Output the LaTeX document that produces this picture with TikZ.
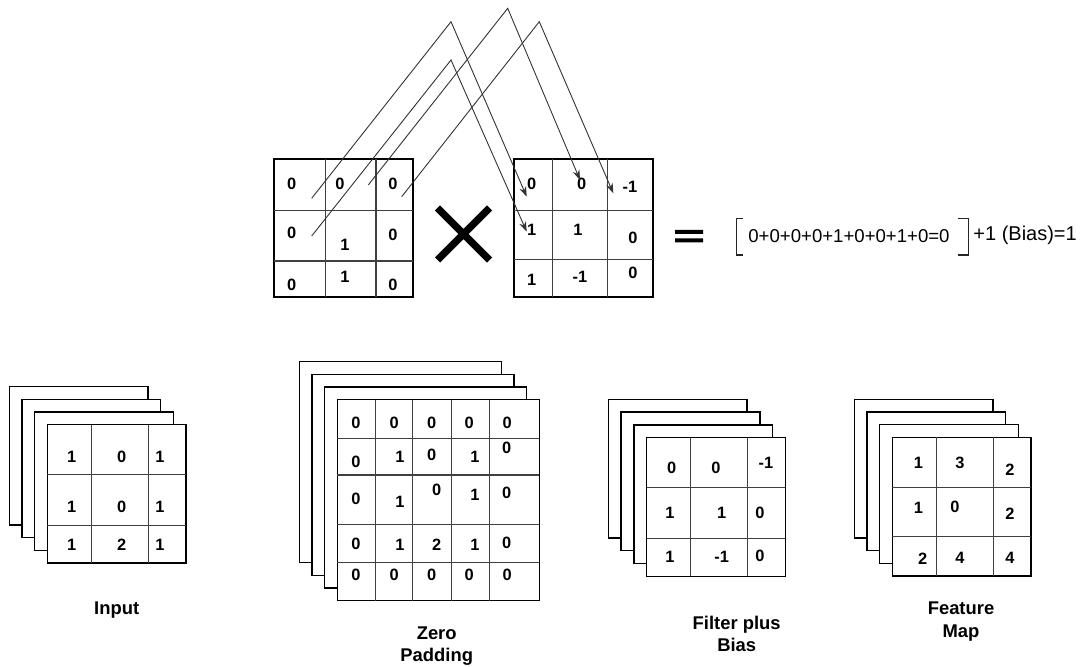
\documentclass[tikz,border=0pt]{standalone}
\usepackage{fontspec}
\setmainfont{Liberation Sans}
\usetikzlibrary{arrows.meta, calc}

\begin{document}
\begin{tikzpicture}[
    x=0.5pt, y=-0.5pt, % pixel grid, y grows downward
    cell/.style={font=\fontsize{8.2}{10}\selectfont\bfseries, inner sep=0pt},
    caption/.style={font=\fontsize{9.2}{11.2}\selectfont\bfseries, align=center, inner sep=0pt},
    eq/.style={font=\fontsize{9.3}{11}\selectfont, inner sep=0pt},
    sheet/.style={draw, fill=white, line width=0.7pt},
    gridline/.style={draw=black!75, line width=0.6pt},
    link/.style={-{Stealth[length=5pt, width=3.5pt]}, draw=black!80, line width=0.45pt}
]
    \useasboundingbox (0,0) rectangle (1087,667);

    % Top: receptive field times filter
    \draw[sheet] (274,159) rectangle (413,297);
    \draw[gridline] (325.7,159) -- (325.7,297) (376,159) -- (376,297)
                    (274,210.7) -- (413,210.7) (274,261) -- (413,261);
    \draw[sheet] (514,159) rectangle (653,297);
    \draw[gridline] (552.7,159) -- (552.7,297) (607.7,159) -- (607.7,297)
                    (514,210.7) -- (653,210.7) (514,259.3) -- (653,259.3);

    \foreach \v/\x/\y [count=\i] in {0/291.7/184, 0/340/184, 0/393/184,
        0/291.7/233, 1/345/245, 0/393/235, 0/291.7/285, 1/345/277, 0/393/285}
        \node[cell] (rf\i) at (\x,\y) {\v};
    \foreach \v/\x/\y [count=\i] in {0/531.7/184, 0/581.7/184, -1/630/187,
        1/531.7/230, 1/578/230, 0/633/238, 1/531.7/280, -1/580/277, 0/633/273}
        \node[cell] (kr\i) at (\x,\y) {\v};

    % Arrows from the patch into the filter
    \coordinate (s1) at (311.7,198.3); \coordinate (p1) at (451,21.7);  \coordinate (e1) at (526.7,196.7);
    \coordinate (s2) at (311.7,236);   \coordinate (p2) at (451,60);    \coordinate (e2) at (526.7,231.7);
    \coordinate (s3) at (368.3,185);   \coordinate (p3) at (507.7,8.3); \coordinate (e3) at (580,180);
    \coordinate (s4) at (401.7,196.7); \coordinate (p4) at (539.3,21.7); \coordinate (e4) at (613.3,193.3);
    \foreach \i in {1,...,4}
        \draw[link] (s\i) -- (p\i) -- (e\i);

    % Times sign and equals sign
    \coordinate (times) at (463.5,234);
    \draw[line width=3.6pt] ($(times)+(-26,-26)$) -- ($(times)+(26,26)$)
                            ($(times)+(26,-26)$) -- ($(times)+(-26,26)$);
    \fill (675,230) rectangle (703,234) (675,238.3) rectangle (703,242.3);

    % Sum in brackets, plus bias
    \node[eq] (sum) at (849,235.8) {0+0+0+0+1+0+0+1+0=0};
    \draw[line width=0.7pt, black!85] (743,218.5) -- (736.5,218.5) -- (736.5,255) -- (743,255);
    \draw[line width=0.7pt, black!85] (958.3,218.5) -- (968.3,218.5) -- (968.3,255) -- (958.3,255);
    \node[eq, font=\fontsize{10}{12}\selectfont, anchor=west] (bias) at (973,235.8) {+1 (Bias)=1};

    % Bottom: Input stack
    \foreach \k in {0,...,3}
        \draw[sheet] (9.3+12.7*\k,386.7+12.7*\k) rectangle +(138.7,138.3);
    \draw[gridline] (91.7,424.8) -- (91.7,563) (148.3,424.8) -- (148.3,563)
                    (47.4,474.3) -- (186.1,474.3) (47.4,525.7) -- (186.1,525.7);
    \foreach \v/\x/\y [count=\i] in {1/71.7/456.7, 0/121.7/456.7, 1/160/456.7,
        1/71.7/506.7, 0/121.7/506.7, 1/160/506.7, 1/71.7/545, 2/121.7/545, 1/160/545}
        \node[cell] (in\i) at (\x,\y) {\v};
    \node[caption] (inlabel) at (116.7,610) {Input};

    % Zero padding stack
    \foreach \k in {0,...,3}
        \draw[sheet] (299.3+12.67*\k,361.7+12.67*\k) rectangle +(202,201);
    \draw[gridline] (375.7,399.7) -- (375.7,600.7) (412.3,399.7) -- (412.3,600.7)
                    (451.7,399.7) -- (451.7,600.7) (489.3,399.7) -- (489.3,600.7)
                    (337.3,438.3) -- (539.3,438.3) (337.3,475) -- (539.3,475)
                    (337.3,524.3) -- (539.3,524.3) (337.3,562.7) -- (539.3,562.7);
    \foreach \v/\x/\y [count=\i] in {
        0/356/423.3, 0/394.3/423.3, 0/431.7/423.3, 0/469.3/423.3, 0/507.3/423.3,
        0/356/461.7, 1/400/456.7, 0/431.7/455, 1/475/456.7, 0/506.7/448.3,
        0/356/499.3, 1/400/501.7, 0/436.7/490, 1/475/495, 0/506.7/493.3,
        0/356/544.3, 1/400/545, 2/436.7/545, 1/475/545, 0/506.7/542.7,
        0/356/575, 0/394.3/575, 0/431.7/575, 0/469.3/575, 0/507.3/575}
        \node[cell] (zp\i) at (\x,\y) {\v};
    \node[caption] (zplabel) at (436.7,646) {Zero\\Padding};

    % Filter plus bias stack
    \foreach \k in {0,...,3}
        \draw[sheet] (608.3+12.8*\k,399.3+12.8*\k) rectangle +(138.7,138.7);
    \draw[gridline] (690.7,437.7) -- (690.7,576.4) (747.3,437.7) -- (747.3,576.4)
                    (646.7,487.3) -- (785.4,487.3) (646.7,538.3) -- (785.4,538.3);
    \foreach \v/\x/\y [count=\i] in {0/671.7/468.3, 0/716/468.3, -1/766/463.3,
        1/670/513.3, 1/721.7/513.3, 0/760/512.7, 1/670/556.7, -1/721.7/556.7, 0/760/555.7}
        \node[cell] (fb\i) at (\x,\y) {\v};
    \node[caption] (fblabel) at (736.7,634) {Filter plus\\Bias};

    % Feature map stack
    \foreach \k in {0,...,3}
        \draw[sheet] (854.3+12.67*\k,399.3+12.67*\k) rectangle +(138.7,138.7);
    \draw[gridline] (936.7,437.3) -- (936.7,576) (993.3,437.3) -- (993.3,576)
                    (892.3,487.3) -- (1031,487.3) (892.3,536.7) -- (1031,536.7);
    \foreach \v/\x/\y [count=\i] in {1/918.3/463.3, 3/960/463.3, 2/1010/469.3,
        1/918.3/508.3, 0/955/506.7, 2/1010/513.3, 2/922.7/558.3, 4/960/558.3, 4/1010/558.3}
        \node[cell] (fm\i) at (\x,\y) {\v};
    \node[caption] (fmlabel) at (961,621.5) {Feature\\Map};
\end{tikzpicture}
\end{document}
